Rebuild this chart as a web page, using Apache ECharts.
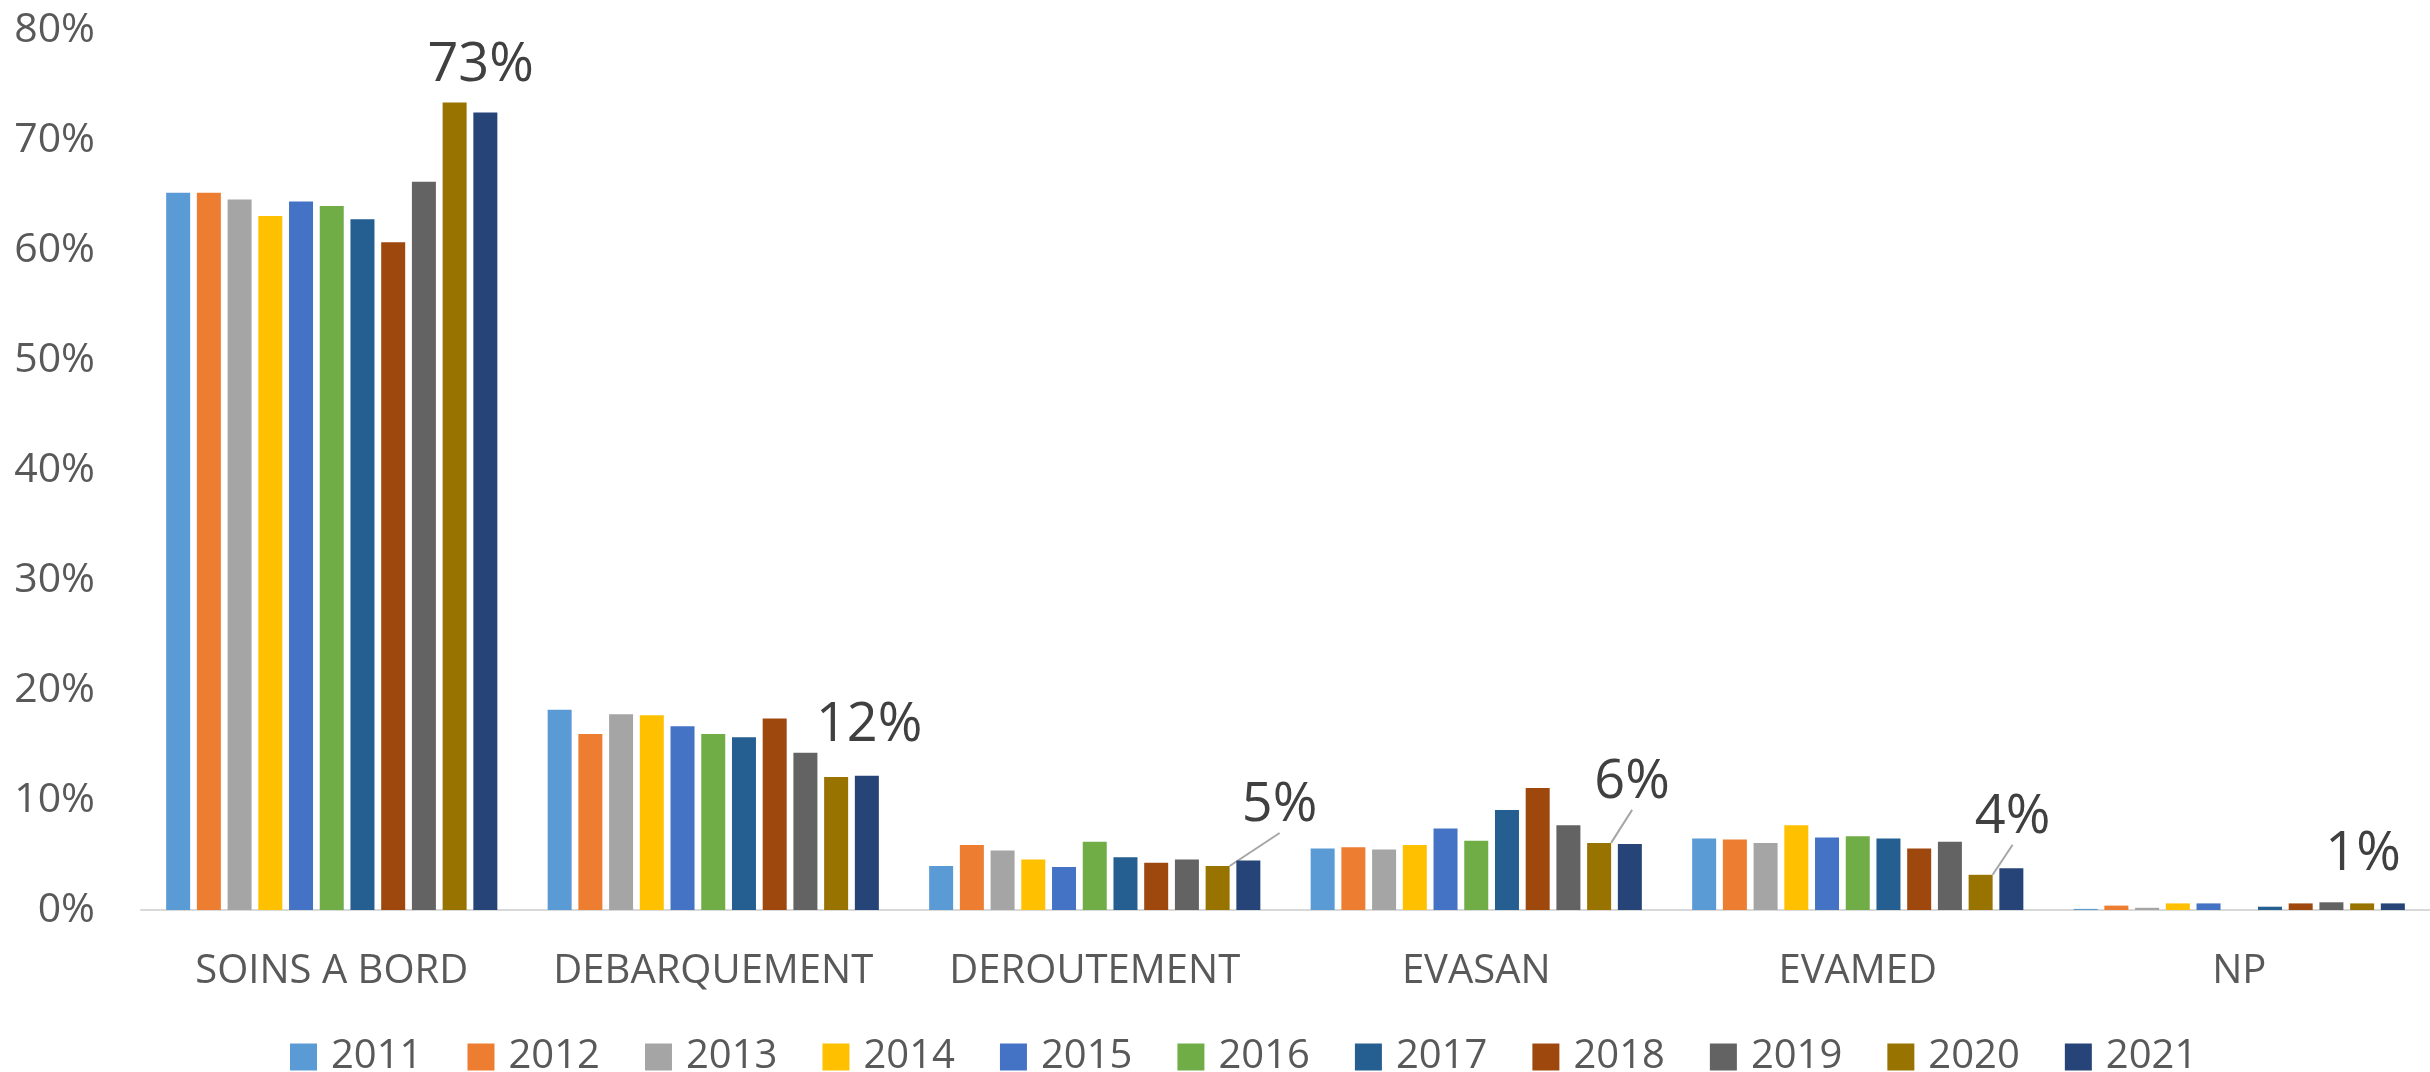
<!DOCTYPE html>
<html>
<head>
<meta charset="utf-8">
<script src="https://cdn.jsdelivr.net/npm/echarts@6/dist/echarts.min.js"></script>
<style>
  html, body { margin: 0; padding: 0; background: #fff; }
  #chart { width: 2430px; height: 1072px; }
</style>
</head>
<body>
<div id="chart"></div>
<script>
// catégories (axe x)
const categories = ['SOINS A BORD', 'DEBARQUEMENT', 'DEROUTEMENT', 'EVASAN', 'EVAMED', 'NP'];
const years = ['2011', '2012', '2013', '2014', '2015', '2016', '2017', '2018', '2019', '2020', '2021'];
const yTicks = [0, 10, 20, 30, 40, 50, 60, 70, 80];

// valeurs en % par année
const v2011 = [65.2, 18.2, 4.0, 5.6, 6.5, 0.1];
const v2012 = [65.2, 16.0, 5.9, 5.7, 6.4, 0.4];
const v2013 = [64.6, 17.8, 5.4, 5.5, 6.1, 0.2];
const v2014 = [63.1, 17.7, 4.6, 5.9, 7.7, 0.6];
const v2015 = [64.4, 16.7, 3.9, 7.4, 6.6, 0.6];
const v2016 = [64.0, 16.0, 6.2, 6.3, 6.7, 0];
const v2017 = [62.8, 15.7, 4.8, 9.1, 6.5, 0.3];
const v2018 = [60.7, 17.4, 4.3, 11.1, 5.6, 0.6];
const v2019 = [66.2, 14.3, 4.6, 7.7, 6.2, 0.7];
const v2020 = [73.4, 12.1, 4.0, 6.1, 3.2, 0.6];
const v2021 = [72.5, 12.2, 4.5, 6.0, 3.8, 0.6];

// étiquettes affichées sur la série 2020
const labels2020 = ['73%', '12%', '5%', '6%', '4%', '1%'];

const seriesValues = [v2011, v2012, v2013, v2014, v2015, v2016, v2017, v2018, v2019, v2020, v2021];
const colors = ['#5B9BD5', '#ED7D31', '#A5A5A5', '#FFC000', '#4472C4', '#70AD47',
                '#255E91', '#9E480E', '#636363', '#997300', '#264478'];

// décalage des étiquettes (dx, dy) et trait de rappel
const labelShift = [[26, -5], [33, -19], [62, -28], [33, -28], [32, -25], [1, -17]];
const withLeader = [false, false, true, true, true, false];

const chart = echarts.init(document.getElementById('chart'));

const series = years.map((y, i) => {
  const s = {
    name: y,
    type: 'bar',
    barWidth: 24,
    barGap: '28%',
    itemStyle: { color: colors[i] },
    data: seriesValues[i]
  };
  if (y === '2020') {
    s.data = seriesValues[i].map((v, k) => ({
      value: v,
      labelLine: { show: withLeader[k] }
    }));
    s.label = {
      show: true,
      position: 'top',
      fontFamily: 'Open Sans',
      fontSize: 54,
      color: '#404040',
      formatter: p => labels2020[p.dataIndex]
    };
    s.labelLine = {
      show: true,
      lineStyle: { color: '#A6A6A6', width: 2 }
    };
    s.labelLayout = p => ({
      dx: labelShift[p.dataIndex][0],
      dy: labelShift[p.dataIndex][1]
    });
  }
  return s;
});

chart.setOption({
  animation: false,
  color: colors,
  textStyle: { fontFamily: 'Open Sans' },
  grid: { left: 141, right: 0, top: 30, bottom: 162 },
  legend: {
    data: years,
    left: 285,
    top: 1032,
    icon: 'rect',
    itemWidth: 27,
    itemHeight: 27,
    itemGap: 45,
    textStyle: {
      fontFamily: 'Open Sans',
      fontSize: 40,
      color: '#595959',
      padding: [0, 0, 0, 9]
    }
  },
  xAxis: {
    type: 'category',
    data: categories,
    axisLine: { lineStyle: { color: '#D9D9D9', width: 2 } },
    axisTick: { show: false },
    axisLabel: {
      interval: 0,
      fontFamily: 'Open Sans',
      fontSize: 40,
      color: '#595959',
      margin: 42
    }
  },
  yAxis: {
    type: 'value',
    min: yTicks[0],
    max: yTicks[yTicks.length - 1],
    interval: 10,
    axisLine: { show: false },
    axisTick: { show: false },
    splitLine: { show: false },
    axisLabel: {
      fontFamily: 'Open Sans',
      fontSize: 41,
      color: '#595959',
      margin: 46,
      formatter: '{value}%'
    }
  },
  series: series
});
</script>
</body>
</html>
